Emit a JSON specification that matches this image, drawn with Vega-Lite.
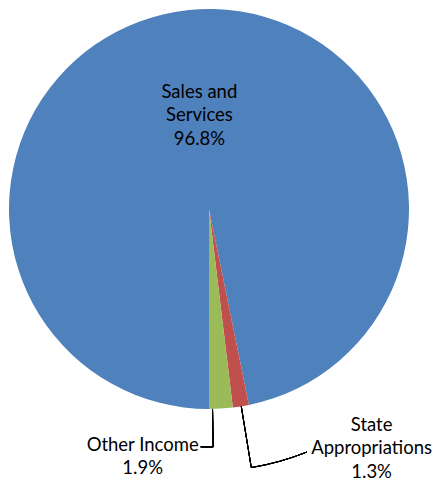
{
  "$schema": "https://vega.github.io/schema/vega-lite/v6.json",
  "width": 400,
  "height": 400,
  "autosize": {"type": "none"},
  "padding": {"left": 9, "top": 9, "right": 24, "bottom": 71},
  "background": "white",
  "config": {"view": {"stroke": null}, "text": {"font": "Lato", "fontSize": 18.5, "color": "#000000"}},
  "data": {
    "values": [
      {"name": "Sales and Services", "wrapped": "Sales and\nServices", "value": 96.8, "idx": 1},
      {"name": "State Appropriations", "wrapped": "State\nAppropriations", "value": 1.3, "idx": 2},
      {"name": "Other Income", "wrapped": "Other Income", "value": 1.9, "idx": 3}
    ]
  },
  "transform": [
    {"stack": "value", "groupby": [], "sort": [{"field": "idx", "order": "ascending"}], "as": ["v0", "v1"]},
    {"calculate": "(datum.v0 + datum.v1) / 2", "as": "mid"},
    {"calculate": "datum.wrapped + '\\n' + format(datum.value, '.1f') + '%'", "as": "label"}
  ],
  "layer": [
    {
      "mark": {"type": "arc"},
      "encoding": {
        "theta": {"field": "v0", "type": "quantitative", "scale": {"domain": [0, 100], "range": [3.14159265, 9.42477796]}},
        "theta2": {"field": "v1"},
        "color": {"field": "name", "type": "nominal", "legend": null,
          "scale": {"domain": ["Sales and Services", "State Appropriations", "Other Income"], "range": ["#4F81BD", "#C0504D", "#9BBB59"]}}
      }
    },
    {
      "transform": [{"filter": "datum.idx == 1"}],
      "mark": {"type": "text", "radius": 96, "dy": -21.5, "lineBreak": "\n", "lineHeight": 23.5, "align": "center", "baseline": "middle"},
      "encoding": {
        "theta": {"field": "mid", "type": "quantitative"},
        "text": {"field": "label"}
      }
    },
    {
      "transform": [{"filter": "datum.idx == 2"}],
      "mark": {"type": "text", "radius": 242, "dx": 124, "dy": -23, "lineBreak": "\n", "lineHeight": 23.5, "align": "center", "baseline": "middle"},
      "encoding": {
        "theta": {"field": "mid", "type": "quantitative"},
        "text": {"field": "label"}
      }
    },
    {
      "transform": [{"filter": "datum.idx == 3"}],
      "mark": {"type": "text", "radius": 246, "dx": -81, "dy": -9.75, "lineBreak": "\n", "lineHeight": 23.5, "align": "center", "baseline": "middle"},
      "encoding": {
        "theta": {"field": "mid", "type": "quantitative"},
        "text": {"field": "label"}
      }
    },
    {
      "mark": {"type": "arc", "innerRadius": 200, "outerRadius": 238, "stroke": "#000000", "strokeWidth": 1, "fillOpacity": 0},
      "encoding": {"theta": {"datum": 99.72}, "theta2": {"datum": 99.72}}
    },
    {
      "mark": {"type": "arc", "innerRadius": 238, "outerRadius": 238, "stroke": "#000000", "strokeWidth": 1, "fillOpacity": 0},
      "encoding": {"theta": {"datum": 99.72}, "theta2": {"datum": 100.56}}
    },
    {
      "mark": {"type": "arc", "innerRadius": 200, "outerRadius": 262, "stroke": "#000000", "strokeWidth": 1, "fillOpacity": 0},
      "encoding": {"theta": {"datum": 97.42}, "theta2": {"datum": 97.42}}
    },
    {
      "mark": {"type": "arc", "innerRadius": 262, "outerRadius": 262, "stroke": "#000000", "strokeWidth": 1, "fillOpacity": 0},
      "encoding": {"theta": {"datum": 93.9}, "theta2": {"datum": 97.42}}
    }
  ]
}
